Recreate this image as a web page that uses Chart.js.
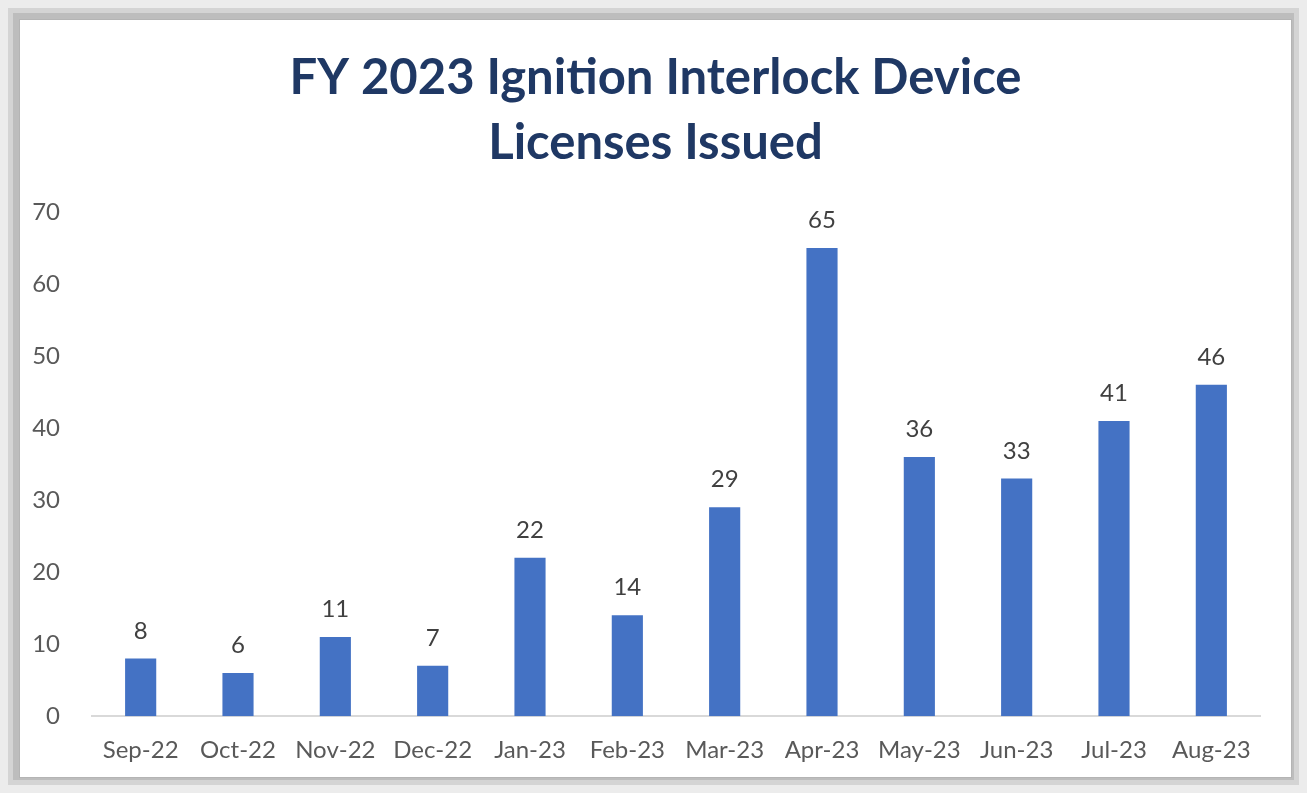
<!DOCTYPE html>
<html>
<head>
<meta charset="utf-8">
<script src="https://cdn.jsdelivr.net/npm/chart.js@4"></script>
<style>
  html, body { margin: 0; padding: 0; }
  body {
    width: 1307px; height: 793px; overflow: hidden;
    background: #ececec;
    position: relative;
  }
  .frame {
    position: absolute; left: 8px; top: 8px; width: 1291px; height: 777px;
    background: #d4d4d4;
  }
  .frame2 {
    position: absolute; left: 13px; top: 13px; width: 1281px; height: 767px;
    background: #bdbdbd;
  }
  .card {
    position: absolute; left: 19px; top: 19px; width: 1271px; height: 757px;
    background: #fff;
    border: 1px solid #b4b4b4;
  }
</style>
</head>
<body>
<div class="frame"></div>
<div class="frame2"></div>
<div class="card"><canvas id="chart" width="1271" height="757"></canvas></div>
<script>
  // 月份與發證數量
  const months = ['Sep-22','Oct-22','Nov-22','Dec-22','Jan-23','Feb-23','Mar-23','Apr-23','May-23','Jun-23','Jul-23','Aug-23'];
  const issued = [8, 6, 11, 7, 22, 14, 29, 65, 36, 33, 41, 46];
  const yTicks = [0, 10, 20, 30, 40, 50, 60, 70];

  const FONT = 'Lato, "Open Sans", sans-serif';

  // 長條上方的數字
  const valueLabels = {
    id: 'valueLabels',
    afterDatasetsDraw(chart) {
      const ctx = chart.ctx;
      ctx.save();
      ctx.font = '24px ' + FONT;
      ctx.fillStyle = '#404040';
      ctx.textAlign = 'center';
      ctx.textBaseline = 'alphabetic';
      chart.getDatasetMeta(0).data.forEach((bar, i) => {
        ctx.fillText(issued[i], bar.x, bar.y - 20);
      });
      ctx.restore();
    }
  };

  const ctx = document.getElementById('chart');
  new Chart(ctx, {
    type: 'bar',
    data: {
      labels: months,
      datasets: [{
        data: issued,
        backgroundColor: '#4472C4',
        barPercentage: 0.32,
        categoryPercentage: 1
      }]
    },
    options: {
      responsive: false,
      animation: false,
      layout: { padding: 0 },
      plugins: {
        legend: false,
        tooltip: { enabled: false },
        title: {
          display: true,
          text: ['FY 2023 Ignition Interlock Device', 'Licenses Issued'],
          color: '#1F3864',
          font: { family: FONT, size: 49, weight: 'bold', lineHeight: 65 / 49 },
          padding: { top: 25.5, bottom: 36.5 }
        }
      },
      scales: {
        x: {
          grid: { display: false },
          border: { display: true, color: '#d9d9d9', width: 2 },
          ticks: { color: '#595959', font: { family: FONT, size: 24 }, padding: 12, maxRotation: 0 }
        },
        y: {
          min: 0, max: 70,
          afterBuildTicks(axis) { axis.ticks = yTicks.map(v => ({ value: v })); },
          afterFit(axis) { axis.width = 72; },
          grid: { display: false },
          border: { display: false },
          ticks: { color: '#595959', font: { family: FONT, size: 24 }, padding: 24 }
        },
        // 右側留白，讓標題置中於整張卡片
        spacer: {
          position: 'right',
          afterFit(axis) { axis.width = 31; },
          grid: { display: false },
          border: { display: false },
          ticks: { display: false }
        }
      }
    },
    plugins: [valueLabels]
  });
</script>
</body>
</html>
